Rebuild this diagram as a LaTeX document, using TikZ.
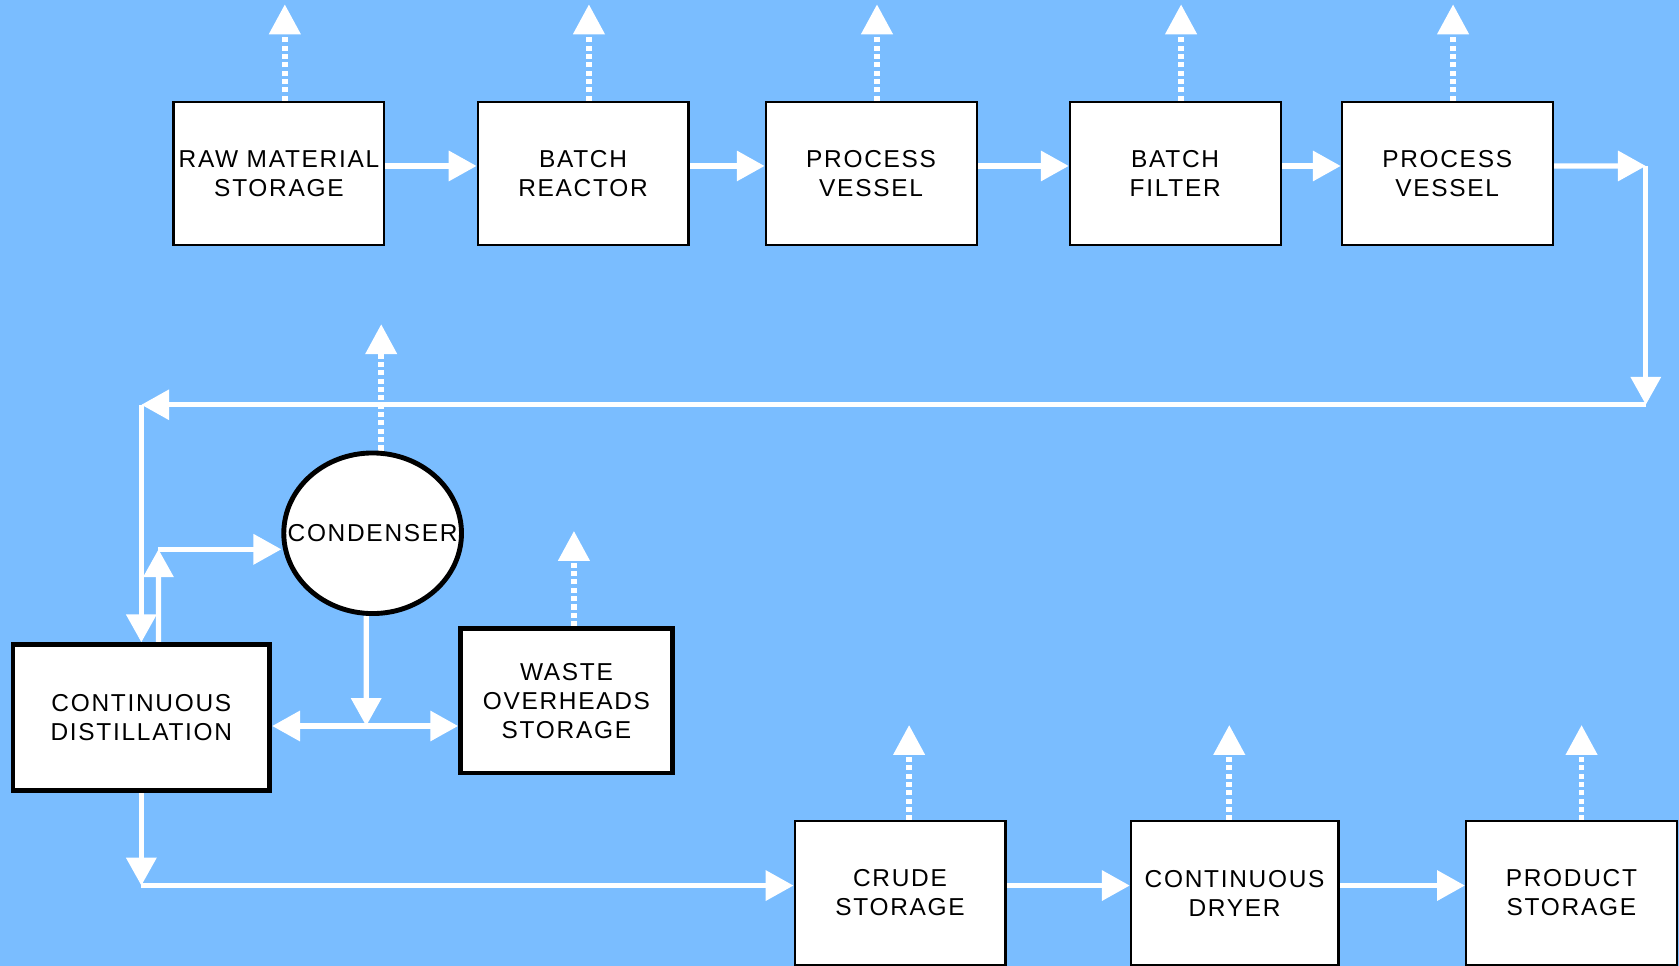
\documentclass[tikz,border=0pt]{standalone}
\usepackage{fontspec}
\setmainfont{Liberation Sans}[LetterSpace=7]
\usetikzlibrary{shapes.geometric, arrows.meta, positioning, backgrounds}
\definecolor{sfondo}{RGB}{122,189,255}

\begin{document}
\begin{tikzpicture}[
  x=0.02cm, y=-0.02cm,
  font=\fontsize{13}{15.4}\selectfont,
  cassa/.style={draw=black, fill=white, line width=1.1pt, align=center,
                minimum width=3.94cm, minimum height=2.68cm, inner sep=0pt},
  cassaspessa/.style={cassa, line width=2.5pt},
  condens/.style={ellipse, draw=black, fill=white, line width=2.6pt,
                  minimum width=3.32cm, minimum height=3.0cm, inner sep=0pt},
  flusso/.style={draw=white, line width=2.7pt},
  freccia/.style={flusso, -{Triangle[length=0.52cm,width=0.55cm]}},
  sfiato/.style={flusso, line width=3.1pt, dash pattern=on 0.094cm off 0.062cm,
                 -{Triangle[length=0.56cm,width=0.57cm]}}
]
\useasboundingbox (0,0) rectangle (1568,902);

%--------------------------------------------------------------
% Linea batch, in alto
%--------------------------------------------------------------
\foreach \nome/\x/\testo in {%
  materie/260.5/{RAW MATERIAL\\STORAGE},
  reattore/544.5/{BATCH\\REACTOR},
  vaso1/813.5/{PROCESS\\VESSEL},
  filtro/1097.5/{BATCH\\FILTER},
  vaso2/1351.5/{PROCESS\\VESSEL}}{
  \node[cassa] (\nome) at (\x,162) {\testo};
}

%--------------------------------------------------------------
% Distillazione, condensatore e scarichi
%--------------------------------------------------------------
\node[cassaspessa, minimum width=4.8cm, minimum height=2.72cm] (distill)
  at (132,670) {CONTINUOUS\\DISTILLATION};
\node[cassaspessa, minimum width=3.96cm, minimum height=2.7cm] (scarico)
  at (529,654.5) {WASTE\\OVERHEADS\\STORAGE};
\node[condens] (cond) at (348,498) {};
\node (condtesto) at (cond.center) {CONDENSER};

%--------------------------------------------------------------
% Linea finale, in basso
%--------------------------------------------------------------
\node[cassa] (crudo) at (840.5,834) {CRUDE\\STORAGE};
\node[cassa, minimum width=3.88cm] (essicc) at (1153,834) {CONTINUOUS\\DRYER};
\node[cassa] (prodotto) at (1467.5,834) {PRODUCT\\STORAGE};

\coordinate (gomitoA) at (1537,155);
\coordinate (gomitoB) at (1537,378);
\coordinate (gomitoC) at (132,378);
\coordinate (ramo) at (148,513);
\coordinate (nodo) at (342,678);
\coordinate (basso) at (132,827);

\begin{scope}[on background layer]
  \fill[sfondo] (0,0) rectangle (1568,902);

  % flusso principale
  \foreach \a/\b in {materie/reattore, reattore/vaso1, vaso1/filtro,
                     filtro/vaso2, crudo/essicc, essicc/prodotto}{
    \draw[freccia] ([yshift=0.14cm]\a.east) -- ([yshift=0.14cm]\b.west);
  }
  \draw[freccia] ([yshift=0.14cm]vaso2.east) -- (gomitoA);
  \draw[freccia] (gomitoA) -- (gomitoB);
  \draw[freccia] (gomitoB) -- (gomitoC);
  \draw[freccia] (gomitoC) -- (distill.north);

  % vapori al condensatore e ritorno
  \draw[freccia] ([xshift=0.32cm]distill.north) -- (ramo);
  \draw[freccia] (ramo) -- (ramo -| cond.west);
  \draw[freccia] ([xshift=-0.12cm]cond.south) -- (nodo);
  \draw[freccia] (nodo) -- (nodo -| distill.east);
  \draw[freccia] (nodo) -- (nodo -| scarico.west);

  % uscita di fondo
  \draw[freccia] (distill.south) -- (basso);
  \draw[freccia] (basso) -- (basso -| crudo.west);

  % sfiati tratteggiati
  \foreach \nome/\dx/\h in {materie/5.5/90, reattore/5.5/90, vaso1/5.5/90,
                            filtro/5.5/90, vaso2/5.5/90, cond/8/118,
                            scarico/7/89, crudo/8.5/89, essicc/-5/89,
                            prodotto/9.5/89}{
    \draw[sfiato] ([xshift=\dx*0.02cm]\nome.north) -- ++(0,-\h);
  }
\end{scope}

\end{tikzpicture}
\end{document}
